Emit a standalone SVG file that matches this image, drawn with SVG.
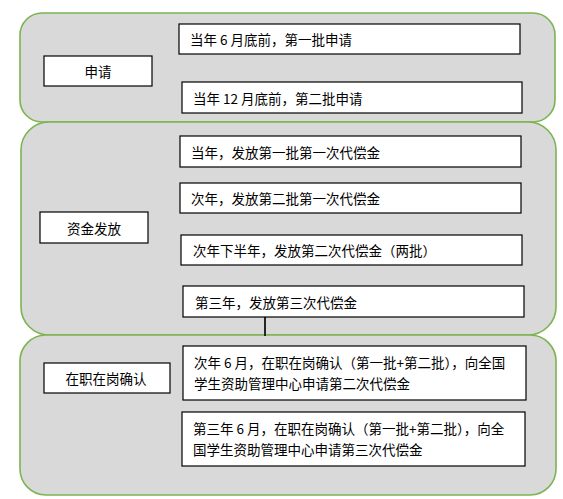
<svg xmlns="http://www.w3.org/2000/svg" width="563" height="499" viewBox="0 0 563 499">
<style>
.panel{fill:#D9D9D9;stroke:#7CB450;stroke-width:1.6}
.box{fill:#FFFFFF;stroke:#000000;stroke-width:1.2}
text{font-family:"Noto Sans CJK SC","Microsoft YaHei",sans-serif;font-size:13.5px;fill:#000000;dominant-baseline:central}
.c{text-anchor:middle}
.conn{stroke:#262626;stroke-width:2;fill:none}
</style>
<rect width="563" height="499" fill="#FFFFFF"/>
<g id="panel-apply"><rect class="panel" x="20" y="13" width="535" height="109" rx="22" ry="22"/></g>
<g id="panel-funding"><rect class="panel" x="21" y="122" width="535" height="213" rx="28" ry="28"/></g>
<g id="panel-confirm"><rect class="panel" x="20" y="335" width="536" height="160" rx="26" ry="26"/></g>

<g id="connectors">
<line class="conn" x1="265" y1="317" x2="265" y2="336"/>
</g>

<g id="node-apply"><rect class="box" x="44" y="56" width="108" height="30"/><text class="c" x="98" y="71">申请</text></g>
<g id="node-apply-1"><rect class="box" x="179" y="24" width="341" height="30"/><text x="190" y="39">当年 6 月底前，第一批申请</text></g>
<g id="node-apply-2"><rect class="box" x="182" y="82" width="340" height="31"/><text x="193" y="97.5">当年 12 月底前，第二批申请</text></g>

<g id="node-funding"><rect class="box" x="40" y="212" width="108" height="31"/><text class="c" x="94" y="227.5">资金发放</text></g>
<g id="node-funding-1"><rect class="box" x="180" y="136" width="341" height="31"/><text x="191" y="151.5">当年，发放第一批第一次代偿金</text></g>
<g id="node-funding-2"><rect class="box" x="180" y="183" width="341" height="30"/><text x="191" y="198">次年，发放第二批第一次代偿金</text></g>
<g id="node-funding-3"><rect class="box" x="181" y="235" width="341" height="30"/><text x="193" y="250">次年下半年，发放第二次代偿金（两批）</text></g>
<g id="node-funding-4"><rect class="box" x="183" y="286" width="341" height="31"/><text x="195" y="301.5">第三年，发放第三次代偿金</text></g>

<g id="node-confirm"><rect class="box" x="44" y="363" width="126" height="30"/><text class="c" x="106" y="378">在职在岗确认</text></g>
<g id="node-confirm-1"><rect class="box" x="183" y="346" width="343" height="54"/><text x="194" y="362">次年 6 月，在职在岗确认（第一批+第二批），向全国</text><text x="194" y="383">学生资助管理中心申请第二次代偿金</text></g>
<g id="node-confirm-2"><rect class="box" x="182" y="412" width="343" height="54"/><text x="193" y="428">第三年 6 月，在职在岗确认（第一批+第二批），向全</text><text x="193" y="448.5">国学生资助管理中心申请第三次代偿金</text></g>
</svg>
